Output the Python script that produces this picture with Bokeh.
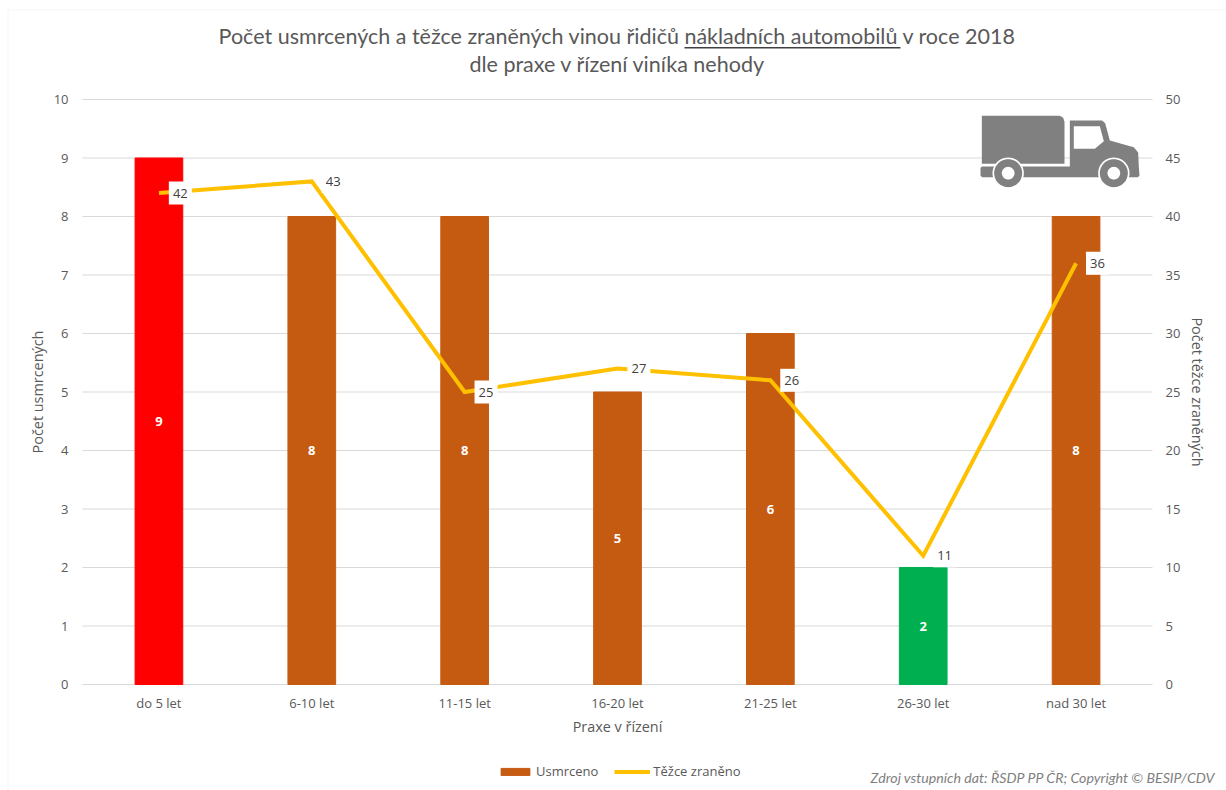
import numpy as np
from bokeh.core.properties import value
from bokeh.embed import file_html
from bokeh.models import (BoxAnnotation, ColumnDataSource, FixedTicker, Label, Legend, LegendItem,
                          LinearAxis, PolyAnnotation, Range1d)
from bokeh.plotting import figure
from bokeh.resources import INLINE
from bokeh.transform import dodge

# Road-safety figures by the driver's years of experience
categories = ["do 5 let", "6-10 let", "11-15 let", "16-20 let", "21-25 let", "26-30 let", "nad 30 let"]
killed = [9, 8, 8, 5, 6, 2, 8]
injured = [42, 43, 25, 27, 26, 11, 36]
bar_colors = ["#ff0000", "#c55a11", "#c55a11", "#c55a11", "#c55a11", "#00b050", "#c55a11"]
left_ticks = list(range(0, 11))
right_ticks = list(range(0, 51, 5))

TEXT = "#595959"
GRID = "#d9d9d9"
BODY_FONT = "Open Sans"
TITLE_FONT = "Lato"
TRUCK = "#808080"

W, H = 1226, 790
PLOT_LEFT, PLOT_RIGHT, PLOT_TOP, PLOT_BOTTOM = 82, 1152, 99, 684

# The plot frame fills the page, so the ranges are widened to keep the chart in its own area
px_per_cat = (PLOT_RIGHT - PLOT_LEFT) / len(categories)
px_per_unit = (PLOT_BOTTOM - PLOT_TOP) / 10
x_start = -0.5 - PLOT_LEFT / px_per_cat
y_start = -(H - PLOT_BOTTOM) / px_per_unit
y_end = PLOT_BOTTOM / px_per_unit
x_first, x_last = -0.5, len(categories) - 0.5

source = ColumnDataSource(dict(
    x=list(range(len(categories))), killed=killed, injured=injured, color=bar_colors,
    mid=[v / 2 for v in killed], killed_txt=[str(v) for v in killed], injured_txt=[str(v) for v in injured],
))

p = figure(width=W, height=H, x_range=Range1d(x_start, x_start + W / px_per_cat),
           y_range=Range1d(y_start, y_end), output_backend="svg", toolbar_location=None,
           min_border=0, outline_line_color=None, background_fill_color="white", border_fill_color="white")
p.extra_y_ranges = {"right": Range1d(y_start * 5, y_end * 5)}
p.grid.visible = False

# Horizontal rules spanning only the chart area
p.segment(x0=[x_first] * len(left_ticks), x1=[x_last] * len(left_ticks), y0=left_ticks, y1=left_ticks,
          line_color=GRID, line_width=1)

right_axis = LinearAxis(y_range_name="right", ticker=FixedTicker(ticks=right_ticks), fixed_location=x_last,
                        bounds=(right_ticks[0], right_ticks[-1]))
p.add_layout(right_axis, "right")
p.yaxis[0].ticker = FixedTicker(ticks=left_ticks)
p.yaxis[0].fixed_location = x_first
p.yaxis[0].bounds = (left_ticks[0], left_ticks[-1])
p.xaxis[0].ticker = FixedTicker(ticks=list(range(len(categories))))
p.xaxis[0].major_label_overrides = dict(enumerate(categories))
p.xaxis[0].fixed_location = 0
p.xaxis[0].bounds = (x_first, x_last)

for axis in [p.xaxis[0], p.yaxis[0], right_axis]:
    axis.axis_line_color = None
    axis.major_tick_line_color = None
    axis.minor_tick_line_color = None
    axis.major_tick_out = 0
    axis.major_label_text_font = BODY_FONT
    axis.major_label_text_font_size = "13px"
    axis.major_label_text_color = TEXT
    axis.axis_label_text_font = BODY_FONT
    axis.axis_label_text_font_size = "14.4px"
    axis.axis_label_text_font_style = "normal"
    axis.axis_label_text_color = TEXT

p.xaxis[0].axis_label = "Praxe v řízení"
p.xaxis[0].major_label_standoff = 9
p.xaxis[0].axis_label_standoff = 2
p.yaxis[0].axis_label = "Počet usmrcených"
p.yaxis[0].major_label_standoff = 14
p.yaxis[0].axis_label_standoff = 4
right_axis.axis_label = "Počet těžce zraněných"
right_axis.major_label_standoff = 13
right_axis.axis_label_standoff = 5

bars = p.vbar(x="x", top="killed", width=0.312, color="color", source=source)
line = p.line(x="x", y="injured", y_range_name="right", line_color="#ffc000", line_width=4,
              line_join="miter", source=source)

# White-backed value labels for the line, set to the right of each point
label_x = dodge("x", 0.14)
p.rect(x=label_x, y="injured", width=23, height=23, width_units="screen", height_units="screen",
       y_range_name="right", fill_color="white", line_color=None, source=source)
p.text(x=label_x, y="injured", text="injured_txt", y_range_name="right", text_align="center",
       text_baseline="middle", text_font=value(BODY_FONT), text_font_size="13px", text_color="#404040",
       source=source)
p.text(x="x", y="mid", text="killed_txt", text_align="center", text_baseline="middle",
       text_font=value(BODY_FONT), text_font_size="13px", text_font_style="bold", text_color="white",
       source=source)

legend = Legend(items=[LegendItem(label="Usmrceno", renderers=[bars], index=1),
                       LegendItem(label="Těžce zraněno", renderers=[line])],
                orientation="horizontal", location=(497, 10), border_line_color=None,
                background_fill_alpha=0, glyph_width=36, glyph_height=9, label_standoff=3, spacing=16,
                padding=0, margin=0, label_text_font=BODY_FONT, label_text_font_size="13px",
                label_text_color=TEXT)
p.add_layout(legend, "center")


def page_text(text, x, y, size, color, font, align="center", style="normal"):
    p.add_layout(Label(x=x, y=H - y, x_units="screen", y_units="screen", text=text, text_font=font,
                       text_font_size=size, text_color=color, text_align=align,
                       text_baseline="middle", text_font_style=style))


page_text("Počet usmrcených a těžce zraněných vinou řidičů nákladních automobilů v roce 2018",
          617, 35, "21.5px", TEXT, TITLE_FONT)
page_text("dle praxe v řízení viníka nehody", 617, 63, "21.5px", TEXT, TITLE_FONT)
page_text("Zdroj vstupních dat: ŘSDP PP ČR; Copyright © BESIP/CDV", 1215, 777, "14.2px", "#7f7f7f",
          TITLE_FONT, align="right", style="italic")

# Underline beneath the vehicle type in the heading
p.add_layout(BoxAnnotation(left=684, right=900, top=H - 46.5, bottom=H - 48, left_units="screen",
                           right_units="screen", top_units="screen", bottom_units="screen",
                           fill_color="#404040", fill_alpha=1, line_color=None))

# Thin chart frame, open past the page edge
p.add_layout(BoxAnnotation(left=7.5, right=W + 14, top=H - 9.5, bottom=-20, left_units="screen",
                           right_units="screen", top_units="screen", bottom_units="screen",
                           fill_alpha=0, line_color=GRID, line_width=1))


def icon_shape(pts, color):
    xs = [960 + a / 3 for a, _ in pts]
    ys = [H - (90 + b / 3) for _, b in pts]
    p.add_layout(PolyAnnotation(xs=xs, ys=ys, xs_units="screen", ys_units="screen", fill_color=color,
                                fill_alpha=1, line_color=None, level="overlay"))


def icon_disc(cx, cy, r, color):
    t = np.linspace(0, 2 * np.pi, 48, endpoint=False)
    icon_shape(list(zip(cx + r * np.cos(t), cy + r * np.sin(t))), color)


# Lorry pictogram, top right of the plot
icon_shape([(64, 76), (298, 76), (308, 82), (312, 94), (312, 220), (64, 220)], TRUCK)
icon_shape([(328, 90), (425, 90), (434, 98), (448, 150), (520, 170), (533, 186), (535, 228), (537, 255),
            (532, 260), (65, 260), (60, 255), (60, 232), (65, 228), (328, 228)], TRUCK)
icon_shape([(340, 107), (418, 107), (430, 152), (403, 175), (340, 175)], "white")
for wheel_x in (143, 460):
    icon_disc(wheel_x, 248, 47, "white")
    icon_disc(wheel_x, 248, 42, TRUCK)
    icon_disc(wheel_x, 248, 19, "white")

open("out.html", "w").write(file_html(p, INLINE))
